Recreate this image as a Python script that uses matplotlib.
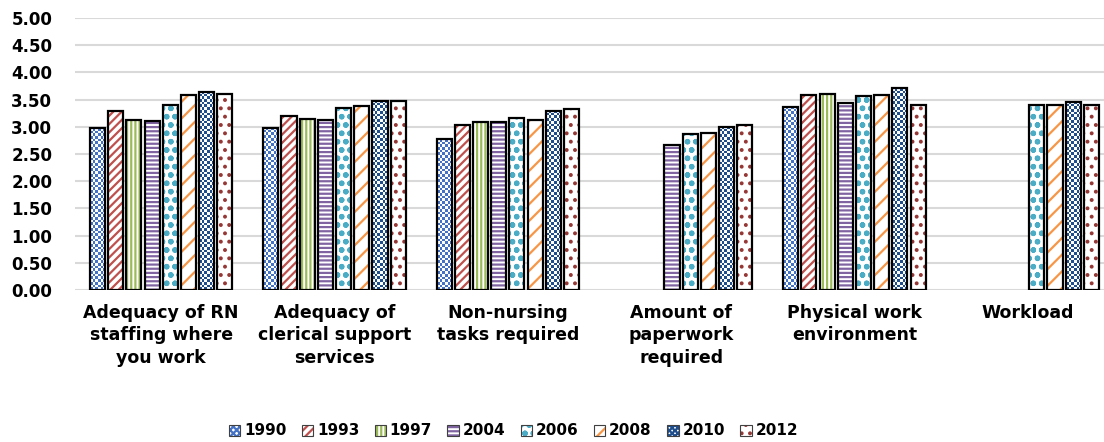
import numpy as np
import matplotlib
import matplotlib.pyplot as plt
from matplotlib.patches import Patch
from matplotlib.colors import ListedColormap

matplotlib.use('agg')

plt.rcParams['font.family'] = ['DejaVu Sans']
plt.rcParams['font.weight'] = 'bold'
plt.rcParams['hatch.linewidth'] = 1.6

categories = ['Adequacy of RN\nstaffing where\nyou work',
              'Adequacy of\nclerical support\nservices',
              'Non-nursing\ntasks required',
              'Amount of\npaperwork\nrequired',
              'Physical work\nenvironment',
              'Workload']
years = ['1990', '1993', '1997', '2004', '2006', '2008', '2010', '2012']

# NaN = not asked that year
v1990 = [2.97, 2.98, 2.77, np.nan, 3.37, np.nan]
v1993 = [3.29, 3.20, 3.04, np.nan, 3.58, np.nan]
v1997 = [3.13, 3.15, 3.09, np.nan, 3.60, np.nan]
v2004 = [3.11, 3.13, 3.09, 2.66, 3.44, np.nan]
v2006 = [3.40, 3.35, 3.17, 2.86, 3.56, 3.41]
v2008 = [3.59, 3.39, 3.12, 2.88, 3.59, 3.41]
v2010 = [3.65, 3.48, 3.30, 3.00, 3.71, 3.46]
v2012 = [3.60, 3.48, 3.32, 3.04, 3.40, 3.40]
series = [v1990, v1993, v1997, v2004, v2006, v2008, v2010, v2012]

colors = ['#4472C4', '#C0504D', '#9BBB59', '#8064A2',
          '#4BACC6', '#F79646', '#1F4E8C', '#953735']
hatches = ['xxxxx', '////', '||||', '----', 'oo', '//', 'xxxxxx', '..']
checker = [True, False, False, False, False, False, True, False]

fig = plt.figure(figsize=(11.04, 4.42), dpi=100)
ax = fig.add_axes([0.0675, 0.344, 1 - 0.0675, 0.615])

x = np.arange(len(categories))
pitch = 0.105
width = 0.087
cell_px = 2.7
for i, vals in enumerate(series):
    pos = x + (i - 3.5) * pitch
    if checker[i]:
        # small checkerboard fill, clipped to each bar
        bars = ax.bar(pos, vals, width, color='white', linewidth=0, zorder=2)
        cm = ListedColormap(['white', colors[i]])
        for b, v in zip(bars, vals):
            if np.isnan(v):
                continue
            nc = 6
            nr = max(1, int(round(v * 54.4 / cell_px)))
            board = (np.add.outer(np.arange(nr), np.arange(nc)) % 2).astype(float)
            im = ax.imshow(board, cmap=cm, interpolation='nearest', aspect='auto',
                           extent=[b.get_x(), b.get_x() + b.get_width(), 0, v],
                           zorder=2.5, vmin=0, vmax=1)
            im.set_clip_path(b)
    else:
        ax.bar(pos, vals, width, color='white', edgecolor=colors[i],
               hatch=hatches[i], linewidth=0, zorder=2)
    ax.bar(pos, vals, width, fill=False, edgecolor='black',
           linewidth=1.6, zorder=3)

ax.set_ylim(0, 5)
ax.set_xlim(-0.5, 5.44)
ax.set_yticks(np.arange(0, 5.01, 0.5))
ax.set_yticklabels(['%.2f' % t for t in np.arange(0, 5.01, 0.5)],
                   fontsize=12, fontweight='bold')
ax.yaxis.grid(True, color='#D9D9D9', linewidth=1.5, zorder=0)
ax.set_axisbelow(True)
for s in ax.spines.values():
    s.set_visible(False)
ax.tick_params(axis='y', length=0, pad=16)
ax.tick_params(axis='x', length=0, pad=10)
ax.set_xticks(x)
ax.set_xticklabels(categories, fontsize=12.5, linespacing=1.32, va='top',
                   fontweight='bold')

# legend keys: hatched square with a thin dark border
handles = []
for i in range(len(years)):
    fillp = Patch(facecolor='white', edgecolor=colors[i], hatch=hatches[i],
                  linewidth=0)
    edge = Patch(fill=False, edgecolor='#404040', linewidth=0.8)
    handles.append((fillp, edge))
fig.legend(handles, years, loc='center', bbox_to_anchor=(0.465, 0.025),
           ncol=8, frameon=False, handlelength=0.75,
           handleheight=0.75, handletextpad=0.25, columnspacing=1.0,
           prop={'size': 11, 'weight': 'bold'})

plt.savefig('out.png', dpi=100)
